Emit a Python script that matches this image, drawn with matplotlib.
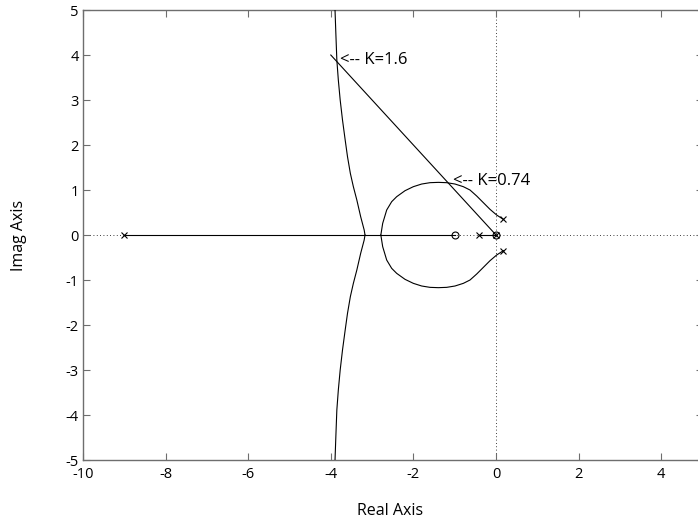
#!/usr/bin/env python3
"""
Root locus with constant-damping ray and two gain call-outs.
Output: out.png (698 x 527 px)
"""

import matplotlib

matplotlib.use("Agg")
import matplotlib.pyplot as plt

FONT = "Open Sans"
C_AX = "#6E6E6E"
C_LN = "black"

# ── Data ──────────────────────────────────────────────────────────────────────
pole_re = [-9.0, -0.41, 0.0, 0.177, 0.177]
pole_im = [0.0, 0.0, 0.0, 0.348, -0.348]
zero_re = [-1.0, 0.0]
zero_im = [0.0, 0.0]

# real-axis locus segments
seg_a_x = [-9.0, -1.0]
seg_b_x = [-0.41, 0.0]

# branch leaving the upper complex pole, into the break-in point
arc_up_x = [0.177, 0.016, -0.145, -0.307, -0.468, -0.630, -0.791, -0.993, -1.194,
            -1.396, -1.598, -1.800, -2.002, -2.203, -2.405, -2.526, -2.647, -2.744,
            -2.785, -2.790]
arc_up_y = [0.348, 0.444, 0.570, 0.719, 0.867, 1.000, 1.074, 1.133, 1.163,
            1.170, 1.163, 1.133, 1.074, 0.985, 0.852, 0.741, 0.556, 0.259,
            0.022, 0.000]
# branch leaving the lower complex pole
arc_dn_x = [0.177, 0.016, -0.145, -0.307, -0.468, -0.630, -0.791, -0.993, -1.194,
            -1.396, -1.598, -1.800, -2.002, -2.203, -2.405, -2.526, -2.647, -2.744,
            -2.785, -2.790]
arc_dn_y = [-0.348, -0.444, -0.570, -0.719, -0.867, -1.000, -1.074, -1.133, -1.163,
            -1.170, -1.163, -1.133, -1.074, -0.985, -0.852, -0.741, -0.556, -0.259,
            -0.022, 0.000]

# asymptotic branches from the breakaway point
asy_up_x = [-3.172, -3.192, -3.277, -3.370, -3.454, -3.527, -3.596, -3.652,
            -3.717, -3.773, -3.818, -3.854, -3.878, -3.898, -3.905]
asy_up_y = [0.000, 0.111, 0.407, 0.778, 1.074, 1.370, 1.741, 2.111,
            2.556, 3.000, 3.444, 3.889, 4.481, 5.000, 5.200]
asy_dn_x = [-3.172, -3.192, -3.277, -3.370, -3.454, -3.527, -3.596, -3.652,
            -3.717, -3.773, -3.818, -3.854, -3.878, -3.898, -3.905]
asy_dn_y = [0.000, -0.111, -0.407, -0.778, -1.074, -1.370, -1.741, -2.111,
            -2.556, -3.000, -3.444, -3.889, -4.481, -5.000, -5.200]

# damping ray
ray_x = [-4.0, 0.0]
ray_y = [4.0, 0.0]

# gain call-outs
notes = [(-3.78, 3.88, "<-- K=1.6"), (-1.03, 1.2, "<-- K=0.74")]

x_ticks = [-10, -8, -6, -4, -2, 0, 2, 4]
y_ticks = [-5, -4, -3, -2, -1, 0, 1, 2, 3, 4, 5]

# ── Figure ────────────────────────────────────────────────────────────────────
plt.rcParams["font.family"] = [FONT, "DejaVu Sans"]
plt.rcParams["axes.unicode_minus"] = False
fig = plt.figure(figsize=(6.98, 5.27), dpi=100, facecolor="white")
ax = fig.add_axes([0.1189, 0.1271, 0.8876, 0.8539])
ax.set_xlim(-10, 5)
ax.set_ylim(-5, 5)

# dotted axes through origin
ax.axhline(0, color=C_LN, lw=0.6, ls=(0, (1, 3)), zorder=1)
ax.axvline(0, color=C_LN, lw=0.6, ls=(0, (1, 3)), zorder=1)

kw = {"color": C_LN, "lw": 0.8, "zorder": 3}
ax.plot(seg_a_x, [0, 0], **kw)
ax.plot(seg_b_x, [0, 0], **kw)
ax.plot(arc_up_x, arc_up_y, **kw)
ax.plot(arc_dn_x, arc_dn_y, **kw)
ax.plot(asy_up_x, asy_up_y, **kw)
ax.plot(asy_dn_x, asy_dn_y, **kw)
ax.plot(ray_x, ray_y, color=C_LN, lw=0.8, zorder=3)

ax.plot(pole_re, pole_im, ls="none", marker="x", ms=5, mew=0.8, color=C_LN, zorder=4)
ax.plot(zero_re, zero_im, ls="none", marker="o", ms=5, mew=0.8, mfc="none", color=C_LN, zorder=4)

for nx, ny, t in notes:
    ax.text(nx, ny, t, fontsize=12, ha="left", va="center", color=C_LN, zorder=5)

# ── Axes styling (matlab look) ────────────────────────────────────────────────
ax.set_xticks(x_ticks)
ax.set_yticks(y_ticks)
ax.tick_params(direction="in", length=5, width=0.8, color=C_AX, labelsize=10.5,
               top=True, right=True)
ax.tick_params(axis="x", pad=5)
ax.tick_params(axis="y", pad=3)
for s in ax.spines.values():
    s.set_color(C_AX)
    s.set_linewidth(1.0)

fig.text(390 / 698, 1 - 511 / 527, "Real Axis", fontsize=11.5, ha="center", va="center")
fig.text(19 / 698, 1 - 235 / 527, "Imag Axis", fontsize=11.5, ha="center", va="center",
         rotation=90)

fig.savefig("out.png", dpi=100, facecolor="white")
plt.close(fig)
print("Written -> out.png")
